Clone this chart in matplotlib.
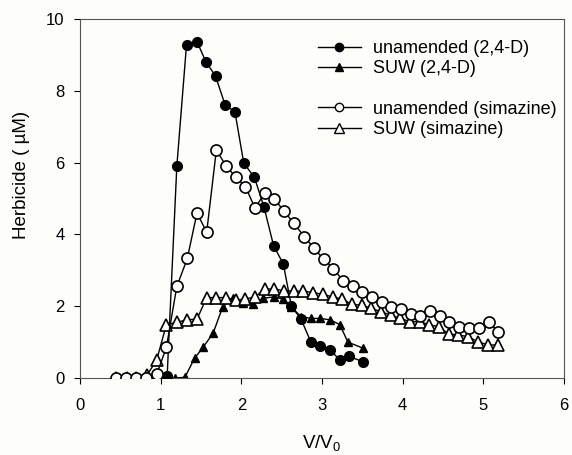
import matplotlib
matplotlib.use("Agg")
import matplotlib.pyplot as plt
from matplotlib.lines import Line2D

plt.rcParams['font.family'] = ['Liberation Sans', 'DejaVu Sans']
plt.rcParams['mathtext.fontset'] = 'custom'
plt.rcParams['mathtext.rm'] = 'Liberation Sans'

# unamended (2,4-D)  - filled circles
x_un24d = [0.83, 0.95, 1.08, 1.20, 1.32, 1.45, 1.56, 1.68, 1.80, 1.92, 2.03, 2.16, 2.28, 2.40, 2.52,
           2.62, 2.74, 2.86, 2.98, 3.10, 3.22, 3.33, 3.51]
y_un24d = [0.0, 0.0, 0.05, 5.9, 9.28, 9.37, 8.81, 8.41, 7.60, 7.42, 5.98, 5.60, 4.77, 3.68, 3.18,
           2.0, 1.64, 1.01, 0.88, 0.79, 0.50, 0.61, 0.45]

# SUW (2,4-D) - filled triangles
x_suw24d = [0.95, 1.05, 1.18, 1.30, 1.42, 1.53, 1.65, 1.77, 1.90, 2.02, 2.15, 2.27, 2.40, 2.52,
            2.62, 2.74, 2.86, 2.98, 3.10, 3.22, 3.32, 3.51]
y_suw24d = [0.0, 0.0, 0.0, 0.02, 0.55, 0.87, 1.25, 1.99, 2.22, 2.10, 2.05, 2.22, 2.26, 2.20,
            1.97, 1.71, 1.66, 1.66, 1.62, 1.49, 1.00, 0.83]

# unamended (simazine) - open circles
x_unsim = [0.45, 0.57, 0.70, 0.82, 0.95, 1.07, 1.20, 1.33, 1.45, 1.57, 1.69, 1.81, 1.93, 2.05, 2.17,
           2.29, 2.41, 2.53, 2.65, 2.78, 2.90, 3.02, 3.14, 3.26, 3.38, 3.50, 3.62, 3.74, 3.86, 3.98,
           4.10, 4.22, 4.34, 4.46, 4.58, 4.70, 4.82, 4.95, 5.07, 5.18]
y_unsim = [0.0, 0.0, 0.0, 0.0, 0.10, 0.85, 2.55, 3.33, 4.60, 4.06, 6.35, 5.91, 5.60, 5.33, 4.73,
           5.16, 4.98, 4.65, 4.31, 3.94, 3.61, 3.31, 3.05, 2.71, 2.56, 2.40, 2.26, 2.13, 1.97, 1.91,
           1.78, 1.73, 1.86, 1.74, 1.57, 1.43, 1.38, 1.38, 1.57, 1.29]

# SUW (simazine) - open triangles
x_suwsim = [0.45, 0.58, 0.70, 0.83, 0.95, 1.07, 1.20, 1.32, 1.45, 1.57, 1.69, 1.81, 1.93, 2.05, 2.17,
            2.29, 2.41, 2.53, 2.65, 2.77, 2.89, 3.01, 3.13, 3.25, 3.37, 3.49, 3.61, 3.73, 3.85, 3.97,
            4.09, 4.21, 4.33, 4.45, 4.57, 4.69, 4.81, 4.93, 5.06, 5.18]
y_suwsim = [0.0, 0.0, 0.0, 0.08, 0.50, 1.48, 1.55, 1.62, 1.64, 2.24, 2.24, 2.24, 2.17, 2.20, 2.26,
            2.48, 2.48, 2.43, 2.42, 2.42, 2.38, 2.33, 2.26, 2.20, 2.05, 2.03, 1.94, 1.85, 1.75, 1.66,
            1.57, 1.57, 1.48, 1.43, 1.22, 1.20, 1.15, 1.01, 0.92, 0.92]

labels = ["unamended (2,4-D)", "SUW (2,4-D)", "unamended (simazine)", "SUW (simazine)"]
x_ticks = [0, 1, 2, 3, 4, 5, 6]
y_ticks = [0, 2, 4, 6, 8, 10]

bg = '#fdfdf9'
fig = plt.figure(figsize=(5.72, 4.55), dpi=100, facecolor=bg)
ax = fig.add_axes([0.1399, 0.1692, 0.8462, 0.789])
ax.set_facecolor(bg)

lw = 1.0
ax.plot(x_suw24d, y_suw24d, '-', color='black', lw=lw, marker='^', ms=5.5,
        mfc='black', mec='black', zorder=2)
ax.plot(x_un24d, y_un24d, '-', color='black', lw=lw, marker='o', ms=7,
        mfc='black', mec='black', zorder=3)
ax.plot(x_suwsim, y_suwsim, '-', color='black', lw=lw, marker='^', ms=8,
        mfc='white', mec='black', mew=1.2, zorder=4)
ax.plot(x_unsim, y_unsim, '-', color='black', lw=lw, marker='o', ms=8,
        mfc='white', mec='black', mew=1.2, zorder=5)

ax.set_xlim(0, 6)
ax.set_ylim(0, 10)
ax.set_xticks(x_ticks)
ax.set_yticks(y_ticks)
ax.tick_params(direction='out', length=4, width=0.8, labelsize=12, colors='black')
ax.tick_params(axis='x', pad=10.5)
ax.tick_params(axis='y', pad=7)
for sp in ax.spines.values():
    sp.set_linewidth(0.8)
    sp.set_color('#555555')

ax.set_xlabel('V/V$_{\\mathregular{0}}$', fontsize=13.5)
ax.set_ylabel('Herbicide ( µM)', fontsize=13.5)
ax.xaxis.set_label_coords(0.5, -0.155)
ax.yaxis.set_label_coords(-0.103, 0.565)

h = [
    Line2D([], [], color='black', lw=lw, marker='o', ms=6, mfc='black', mec='black'),
    Line2D([], [], color='black', lw=lw, marker='^', ms=5.5, mfc='black', mec='black'),
    Line2D([], [], color='none', lw=0),
    Line2D([], [], color='black', lw=lw, marker='o', ms=6, mfc='white', mec='black'),
    Line2D([], [], color='black', lw=lw, marker='^', ms=7, mfc='white', mec='black'),
]
lab = [labels[0], labels[1], ' ', labels[2], labels[3]]
ax.legend(h, lab, loc='upper left', bbox_to_anchor=(0.476, 0.962), frameon=False,
          fontsize=13, handlelength=2.4, handletextpad=0.65, labelspacing=0.18,
          numpoints=1, borderaxespad=0, borderpad=0.4)

fig.savefig('out.png', dpi=100, facecolor=bg)
